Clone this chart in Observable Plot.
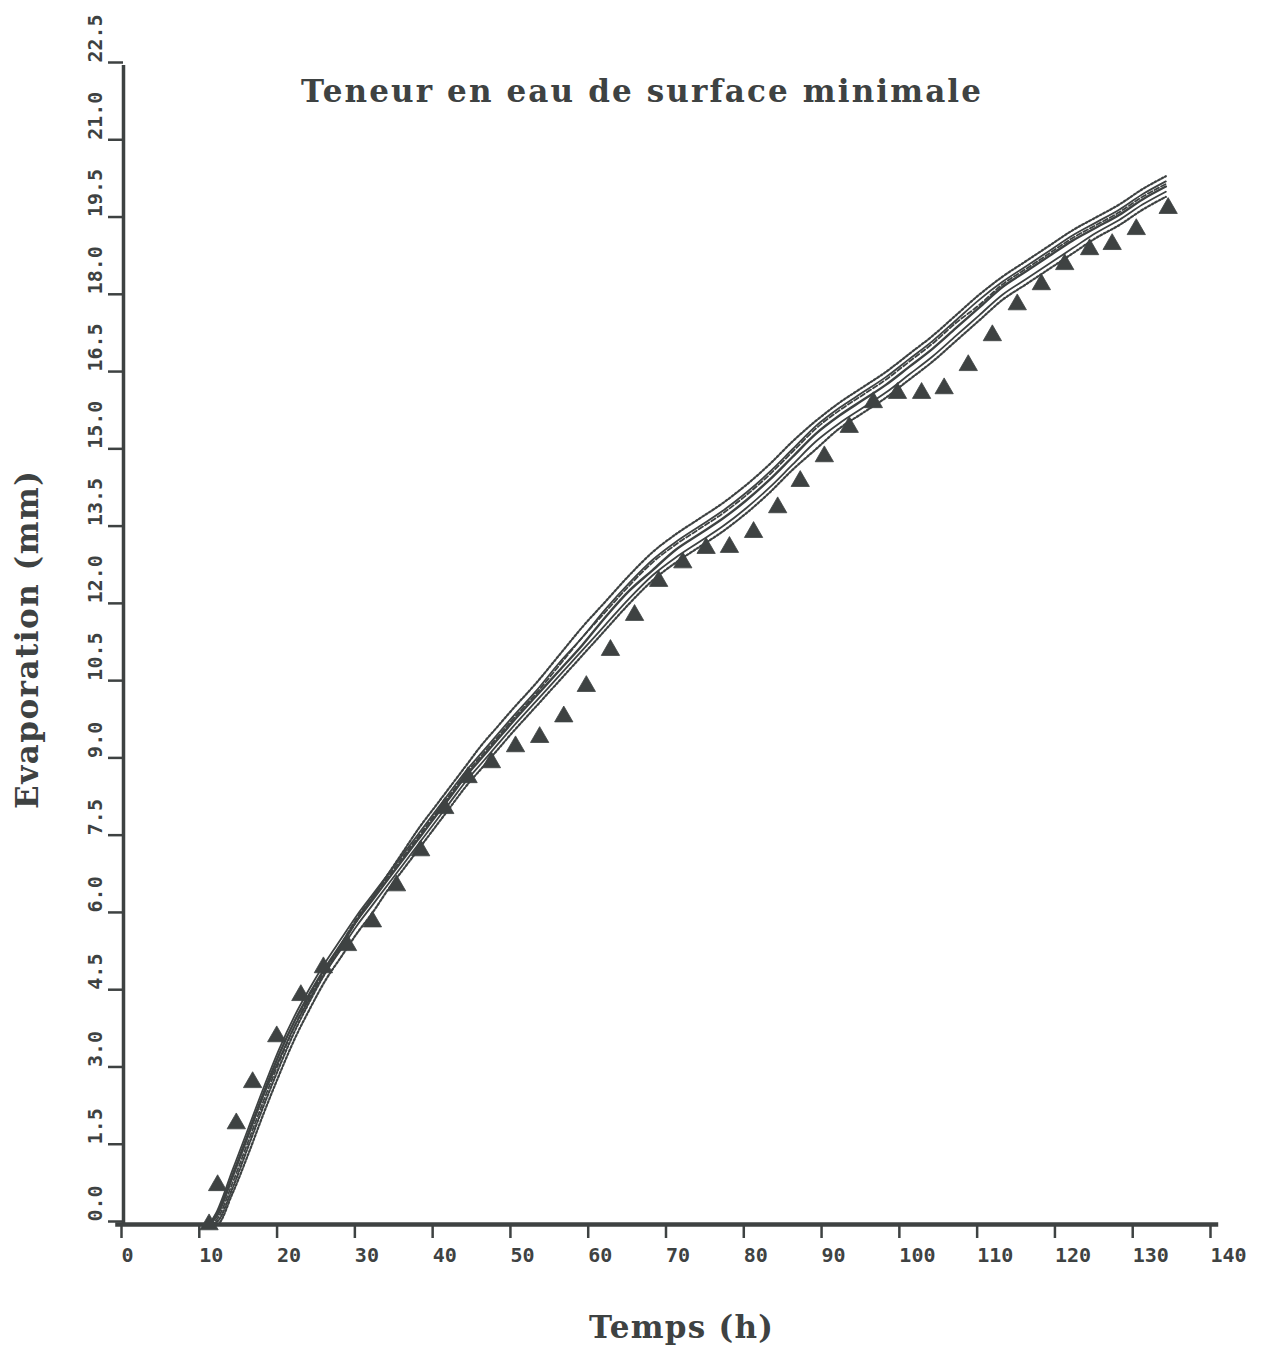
<!DOCTYPE html>
<html>
<head>
<meta charset="utf-8">
<script src="https://cdn.jsdelivr.net/npm/d3@7"></script>
<script src="https://cdn.jsdelivr.net/npm/@observablehq/plot@0.6"></script>
<style>
  html, body { margin: 0; padding: 0; background: #ffffff; }
  #chart { width: 1267px; height: 1350px; }
</style>
</head>
<body>
<div id="chart"></div>
<script>
// ---------- DATA ----------
const titleText = "Teneur en eau de surface minimale";
const xLabel = "Temps (h)";
const yLabel = "Evaporation (mm)";

const xTicks = [0, 10, 20, 30, 40, 50, 60, 70, 80, 90, 100, 110, 120, 130, 140];
const yTicks = [0, 1.5, 3, 4.5, 6, 7.5, 9, 10.5, 12, 13.5, 15, 16.5, 18, 19.5, 21, 22.5];

// simulated curves (time in h)
const times = [11, 12, 14, 16, 18, 20, 22, 24, 26, 28, 30, 32, 34, 36, 38, 40, 42, 44, 46, 48, 50,
  53, 56, 59, 62, 65, 68, 71, 74, 77, 80, 83, 86, 89, 92, 95, 98, 101, 104, 107, 110,
  113, 116, 119, 122, 125, 128, 131, 134];

const solidA = [0, 0.25, 1.05, 1.85, 2.65, 3.4, 4.05, 4.6, 5.1, 5.55, 6.0, 6.4, 6.8, 7.2, 7.6, 8.0, 8.4, 8.8, 9.15, 9.5, 9.85,
  10.35, 10.9, 11.4, 11.95, 12.45, 12.9, 13.25, 13.55, 13.85, 14.2, 14.6, 15.05, 15.5, 15.85, 16.15, 16.45, 16.8, 17.15, 17.55, 17.95,
  18.3, 18.6, 18.9, 19.2, 19.45, 19.7, 20.0, 20.25];
const solidB = [0, 0.2, 0.95, 1.75, 2.55, 3.3, 3.95, 4.5, 5.0, 5.45, 5.9, 6.3, 6.7, 7.1, 7.5, 7.9, 8.3, 8.7, 9.05, 9.4, 9.75,
  10.25, 10.75, 11.25, 11.8, 12.3, 12.7, 13.1, 13.4, 13.7, 14.05, 14.45, 14.9, 15.35, 15.7, 16.0, 16.3, 16.65, 17.0, 17.4, 17.8,
  18.2, 18.5, 18.8, 19.1, 19.35, 19.6, 19.9, 20.15];
const solidC = [0, 0.15, 0.9, 1.7, 2.5, 3.2, 3.85, 4.4, 4.9, 5.35, 5.8, 6.2, 6.6, 7.0, 7.4, 7.8, 8.2, 8.6, 8.95, 9.3, 9.65,
  10.15, 10.65, 11.15, 11.65, 12.15, 12.6, 12.95, 13.25, 13.55, 13.9, 14.3, 14.75, 15.2, 15.55, 15.85, 16.15, 16.5, 16.85, 17.25, 17.65,
  18.05, 18.35, 18.65, 18.95, 19.25, 19.5, 19.8, 20.05];
const dottedA = [0, 0.05, 0.7, 1.5, 2.3, 3.05, 3.75, 4.35, 4.9, 5.4, 5.9, 6.35, 6.8, 7.25, 7.7, 8.1, 8.5, 8.9, 9.3, 9.65, 10.0,
  10.5, 11.05, 11.6, 12.1, 12.6, 13.05, 13.4, 13.7, 14.0, 14.35, 14.75, 15.2, 15.6, 15.95, 16.25, 16.55, 16.9, 17.25, 17.65, 18.05,
  18.4, 18.7, 19.0, 19.3, 19.55, 19.8, 20.1, 20.35];
const dottedB = [0, 0.0, 0.6, 1.35, 2.15, 2.9, 3.6, 4.2, 4.75, 5.2, 5.65, 6.05, 6.5, 6.9, 7.3, 7.7, 8.1, 8.5, 8.85, 9.2, 9.55,
  10.05, 10.55, 11.05, 11.55, 12.05, 12.5, 12.85, 13.15, 13.45, 13.8, 14.2, 14.65, 15.05, 15.45, 15.75, 16.05, 16.4, 16.75, 17.15, 17.55,
  17.95, 18.25, 18.55, 18.85, 19.15, 19.4, 19.7, 19.95];
const dashedA = [0, 0.1, 0.8, 1.6, 2.4, 3.15, 3.85, 4.45, 4.95, 5.45, 5.95, 6.35, 6.75, 7.15, 7.55, 7.95, 8.35, 8.75, 9.1, 9.45, 9.8,
  10.3, 10.85, 11.4, 11.9, 12.4, 12.85, 13.2, 13.5, 13.8, 14.15, 14.55, 15.0, 15.45, 15.8, 16.1, 16.4, 16.75, 17.1, 17.5, 17.85,
  18.25, 18.55, 18.85, 19.15, 19.4, 19.65, 19.95, 20.2];

// measured evaporation (triangles)
const obsT = [11, 12.1, 14.5, 16.6, 19.7, 22.8, 25.7, 28.8, 32.0, 35.1, 38.2, 41.3, 44.3, 47.3, 50.4, 53.5, 56.6, 59.5,
  62.6, 65.7, 68.8, 71.9, 74.9, 77.9, 81.0, 84.1, 87.0, 90.1, 93.3, 96.4, 99.5, 102.6, 105.5, 108.6, 111.7, 114.9,
  118.0, 121.0, 124.2, 127.1, 130.2, 134.3];
const obsE = [0.0, 0.76, 1.96, 2.76, 3.65, 4.45, 4.99, 5.42, 5.88, 6.58, 7.26, 8.08, 8.68, 8.97, 9.28, 9.46, 9.86, 10.45,
  11.15, 11.83, 12.49, 12.85, 13.13, 13.15, 13.44, 13.92, 14.43, 14.91, 15.48, 15.96, 16.14, 16.14, 16.23, 16.68, 17.26, 17.86,
  18.25, 18.64, 18.93, 19.03, 19.32, 19.73];

// ---------- BUILD ----------
const ink = "#3e4242";
const seriesDefs = [
  {values: solidA, dash: null, w: 1.8},
  {values: solidB, dash: null, w: 2.4},
  {values: solidC, dash: null, w: 1.8},
  {values: dottedA, dash: "2,2", w: 2.2},
  {values: dottedB, dash: "2,2", w: 2.2},
  {values: dashedA, dash: "5,2.5", w: 1.8}
];
const lineMarks = seriesDefs.map(s =>
  Plot.line(times.map((t, i) => ({t, E: s.values[i]})), {
    x: "t", y: "E", stroke: ink, strokeWidth: s.w, curve: "monotone-x",
    strokeDasharray: s.dash || undefined
  })
);
const obs = obsT.map((t, i) => ({t, E: obsE[i]}));

const tickFont = "'DejaVu Sans Mono', monospace";
const serifFont = "'DejaVu Serif', serif";

const chart = Plot.plot({
  width: 1267,
  height: 1350,
  marginLeft: 123,
  marginRight: 55,
  marginTop: 65,
  marginBottom: 126,
  style: {background: "#ffffff", color: ink, fontFamily: tickFont},
  x: {domain: [0, 140]},
  y: {domain: [0, 22.5]},
  marks: [
    Plot.axisX({ticks: xTicks, tickSize: 14, tickPadding: 9, fontSize: 20, fontWeight: "bold",
      textAnchor: "start", dx: -2,
      tickFormat: d => String(d), label: null, strokeWidth: 2.5}),
    Plot.axisY({ticks: yTicks, tickSize: 15, tickPadding: 7, tickRotate: -90, fontSize: 20, fontWeight: "bold",
      textAnchor: "start", dy: -3,
      tickFormat: d => d.toFixed(1), label: null, strokeWidth: 2.5}),
    Plot.ruleY([0], {x1: -1, x2: 140.8, stroke: ink, strokeWidth: 4.5}),
    Plot.ruleX([0], {y1: 0, y2: 22.5, stroke: ink, strokeWidth: 3.5}),
    ...lineMarks,
    Plot.dot(obs, {x: "t", y: "E", symbol: "triangle", r: 6.8, fill: ink, stroke: ink, strokeWidth: 0.8}),
    Plot.text([titleText], {frameAnchor: "top", dx: -27, dy: 27, fontSize: 31, fontFamily: serifFont,
      fill: ink, lineAnchor: "middle", textAnchor: "middle"}),
    Plot.text([yLabel], {frameAnchor: "left", rotate: -90, dx: -95, dy: -5, fontSize: 31,
      fontFamily: serifFont, fill: ink, lineAnchor: "middle", textAnchor: "middle"}),
    Plot.text([xLabel], {frameAnchor: "bottom", dx: 13, dy: 104, fontSize: 31,
      fontFamily: serifFont, fill: ink, lineAnchor: "middle", textAnchor: "middle"})
  ]
});

// fit serif labels to the spans seen in the reference
const spans = {[titleText]: 680, [yLabel]: 338, [xLabel]: 184};
chart.querySelectorAll("text").forEach(el => {
  const s = spans[el.textContent];
  if (s) {
    el.setAttribute("textLength", s);
    el.setAttribute("lengthAdjust", "spacing");
    el.style.fontWeight = "600";
  }
});

document.getElementById("chart").appendChild(chart);
</script>
</body>
</html>
